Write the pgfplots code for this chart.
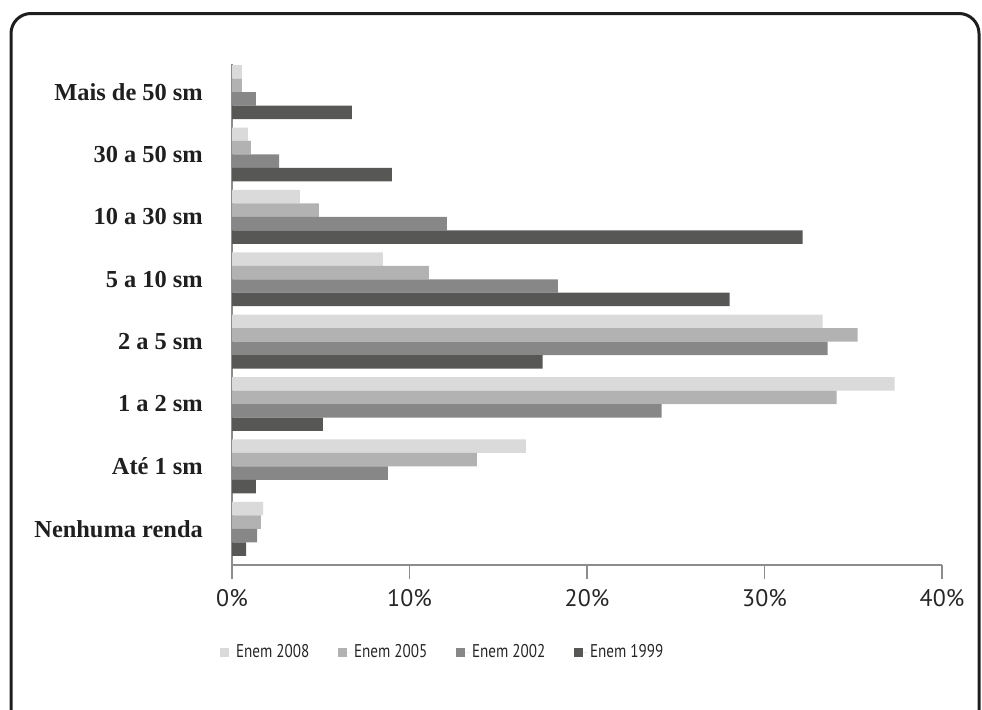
\documentclass[border=0pt]{standalone}
\usepackage{fontspec}
\setmainfont{Liberation Serif}
\newfontfamily\sansfont{PT Sans}
\newfontfamily\legfont[FakeStretch=0.82]{PT Sans}
\usepackage{pgfplots}
\pgfplotsset{compat=1.18}
\usepackage{pgfplotstable}

\definecolor{c2008}{HTML}{DADADA}
\definecolor{c2005}{HTML}{B2B2B2}
\definecolor{c2002}{HTML}{878787}
\definecolor{c1999}{HTML}{575756}
\definecolor{axisgray}{HTML}{8C8C8C}
\definecolor{framecol}{HTML}{1E1E1E}

% income bands: 0 = Nenhuma renda ... 7 = Mais de 50 sm (share of candidates, %)
\pgfplotstableread{
cat val
0 1.75
1 16.55
2 37.33
3 33.28
4 8.50
5 3.83
6 0.90
7 0.56
}\enemEight
\pgfplotstableread{
cat val
0 1.63
1 13.80
2 34.07
3 35.25
4 11.09
5 4.90
6 1.07
7 0.56
}\enemFive
\pgfplotstableread{
cat val
0 1.41
1 8.78
2 24.20
3 33.56
4 18.36
5 12.10
6 2.65
7 1.35
}\enemTwo
\pgfplotstableread{
cat val
0 0.79
1 1.35
2 5.12
3 17.50
4 28.04
5 32.15
6 9.00
7 6.76
}\enemNine

\begin{document}
\begin{tikzpicture}
\path[use as bounding box] (0bp,0bp) rectangle (982bp,-710bp);
\clip (0bp,0bp) rectangle (982bp,-710bp);
\draw[line width=3bp, framecol, rounded corners=20bp] (11bp,-13.5bp) rectangle (979bp,-780bp);
\begin{axis}[
  at={(232bp,-565bp)}, anchor=south west,
  scale only axis, width=710bp, height=501bp,
  xbar, bar width=0.216,
  xmin=0, xmax=40, ymin=-0.58, ymax=7.45,
  axis x line=bottom, axis y line=left,
  axis line style={axisgray, line width=1.4bp, -},
  xtick={0,10,20,30,40},
  xtick align=outside, ytick align=inside,
  major tick length=14bp,
  xtick style={axisgray, line width=1.4bp},
  ytick={0,...,7},
  ytick style={draw=none},
  yticklabels={Nenhuma renda, Até 1 sm, 1 a 2 sm, 2 a 5 sm, 5 a 10 sm, 10 a 30 sm, 30 a 50 sm, Mais de 50 sm},
  yticklabel style={font=\bfseries\fontsize{24.5}{27}\selectfont, text=black!88, anchor=east, inner sep=0pt, xshift=-29bp},
  /pgf/number format/assume math mode=true,
  xticklabel={\pgfmathprintnumber{\tick}\%},
  xticklabel style={font=\sansfont\fontsize{24}{26}\selectfont, text=black!85, yshift=-7bp},
  legend columns=4,
  legend style={at={(rel axis cs:-0.017,-0.174)}, anchor=west, draw=none, fill=none, inner sep=0pt,
    font=\legfont\fontsize{18.5}{22}\selectfont, text=black!85,
    /tikz/every even column/.append style={column sep=0bp}},
  legend image code/.code={\fill[#1] (0bp,-4.5bp) rectangle (9bp,4.5bp); \path (0bp,0bp) -- (14bp,0bp);},
  clip=false,
]
\addplot[fill=c2008, draw=none, bar shift=0.324] table[x=val, y=cat] {\enemEight};
\addlegendentry{\makebox[100bp][l]{Enem 2008}}
\addplot[fill=c2005, draw=none, bar shift=0.108] table[x=val, y=cat] {\enemFive};
\addlegendentry{\makebox[100bp][l]{Enem 2005}}
\addplot[fill=c2002, draw=none, bar shift=-0.108] table[x=val, y=cat] {\enemTwo};
\addlegendentry{\makebox[100bp][l]{Enem 2002}}
\addplot[fill=c1999, draw=none, bar shift=-0.324] table[x=val, y=cat] {\enemNine};
\addlegendentry{Enem 1999}
\end{axis}
\end{tikzpicture}
\end{document}
